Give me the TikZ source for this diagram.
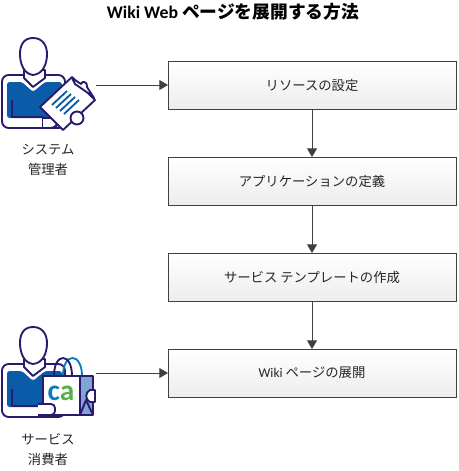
\documentclass[tikz,border=0pt]{standalone}
\usepackage{fontspec}
\setmainfont{Carlito}
\newfontfamily\jpfont{Noto Sans CJK JP}
\usetikzlibrary{positioning, arrows.meta}
\definecolor{iconnavy}{HTML}{2A1A6E}
\definecolor{iconblue}{HTML}{0A5CA8}
\definecolor{iconpale}{HTML}{7FA6D2}
\definecolor{boxline}{HTML}{404040}
\definecolor{cablue}{HTML}{0B7CBF}
\definecolor{cagreen}{HTML}{57B146}
\tikzset{
  stepbox/.style={draw=boxline, line width=0.75pt, outer sep=0pt, top color=white, bottom color=black!7, minimum width=216pt, minimum height=36pt, font=\fontsize{10pt}{12pt}\jpfont, text=black!85},
  flow/.style={draw=boxline, line width=0.75pt, -{Triangle[length=6.5pt,width=7.5pt]}},
  rolelabel/.style={align=center, font=\fontsize{10pt}{15pt}\jpfont, text=black!85},
  iconline/.style={draw=iconnavy, line width=1.4pt, line join=round}
}
\newcommand{\personicon}[1]{%
  \begin{scope}[yshift=#1*-0.75pt]
  % body, shirt, head
  \draw[iconline, fill=white, rounded corners=5pt] (2,128) -- (2,75) -- (65,75) -- (65,128) -- cycle;
  \fill[iconblue, rounded corners=2pt] (7,82) -- (22,82) -- (33,92) -- (45,82) -- (62,82) -- (62,118) -- (7,118) -- cycle;
  \draw[iconline] (12,100) -- (12,117) -- (43,117) -- (43,128);
  \draw[iconline, fill=white] (24,70) -- (24,78) -- (33,87) -- (45,78) -- (45,70) -- cycle;
  \draw[iconline, fill=white] (33,38) .. controls (23,38) and (20,46) .. (20,54) .. controls (20,64) and (24,74) .. (33,75) .. controls (43,74) and (47,64) .. (47,54) .. controls (47,46) and (43,38) .. (33,38) -- cycle;
  \end{scope}}
\begin{document}
\begin{tikzpicture}[x=0.75pt, y=-0.75pt, node distance=36pt]
\useasboundingbox (0,0) rectangle (459,471);
\node[font=\fontsize{13.3pt}{15pt}\bfseries] (title) at (233,12) {Wiki Web {\jpfont ページを展開する方法}};
% flow boxes
\node[stepbox] (resource) at (312,85) {リソースの設定};
\node[stepbox, below=of resource] (app) {アプリケーションの定義};
\node[stepbox, below=of app] (template) {サービス テンプレートの作成};
\node[stepbox, below=of template] (deploy) {{\fontspec{Carlito}Wiki} ページの展開};
\draw[flow] (resource) -- (app);
\draw[flow] (app) -- (template);
\draw[flow] (template) -- (deploy);
% admin icon
\personicon{0}
\draw[iconline, fill=white, rounded corners=3pt] (43,118) -- (55,118) -- (58,123) -- (55,128) -- (43,128);
\draw[iconline, fill=white] (40,107) -- (72,77) -- (95,100) -- (63,130) -- cycle;
\draw[iconline, fill=white] (72,78) -- (81,84) .. controls (82,80) and (88,82) .. (87,87) -- (94,98) -- (88,93) -- (75,84) -- cycle;
\foreach \i in {0,1,2,3}
  \draw[iconblue, line width=1.4pt] (52+\i*4,105+\i*3) -- (67+\i*4,91+\i*3);
\draw[iconline, fill=white] (77,118) circle (6.5);
\coordinate (adminout) at (96,85);
\draw[flow] (adminout) -- (resource);
\node[rolelabel] (admin) at (48,160) {システム\\管理者};
% consumer icon
\personicon{289}
\draw[draw=cablue, line width=1.4pt] (82,376) .. controls (82,352) and (63,352) .. (63,376);
\draw[iconline] (72,376) .. controls (72,352) and (54,352) .. (54,376);
\draw[iconline, fill=iconpale] (80,376) rectangle (93,415);
\draw[iconline, fill=white] (43,376) rectangle (80,415);
\draw[iconline, fill=white] (95,390) -- (90,390) .. controls (85,392) and (85,400) .. (90,402) -- (95,402) -- cycle;
\draw[iconline] (80,415) -- (86,400) -- (93,415);
\draw[iconline, fill=white, rounded corners=3pt] (38,404) -- (55,404) -- (55,415) -- (38,415);
\node[font=\fontsize{22pt}{22pt}\bfseries, inner sep=0pt] (calogo) at (61,393) {\textcolor{cablue}{c}\textcolor{cagreen}{a}};
\coordinate (consumerout) at (96,373);
\draw[flow] (consumerout) -- (deploy);
\node[rolelabel] (consumer) at (48,450) {サービス\\消費者};
\end{tikzpicture}
\end{document}
